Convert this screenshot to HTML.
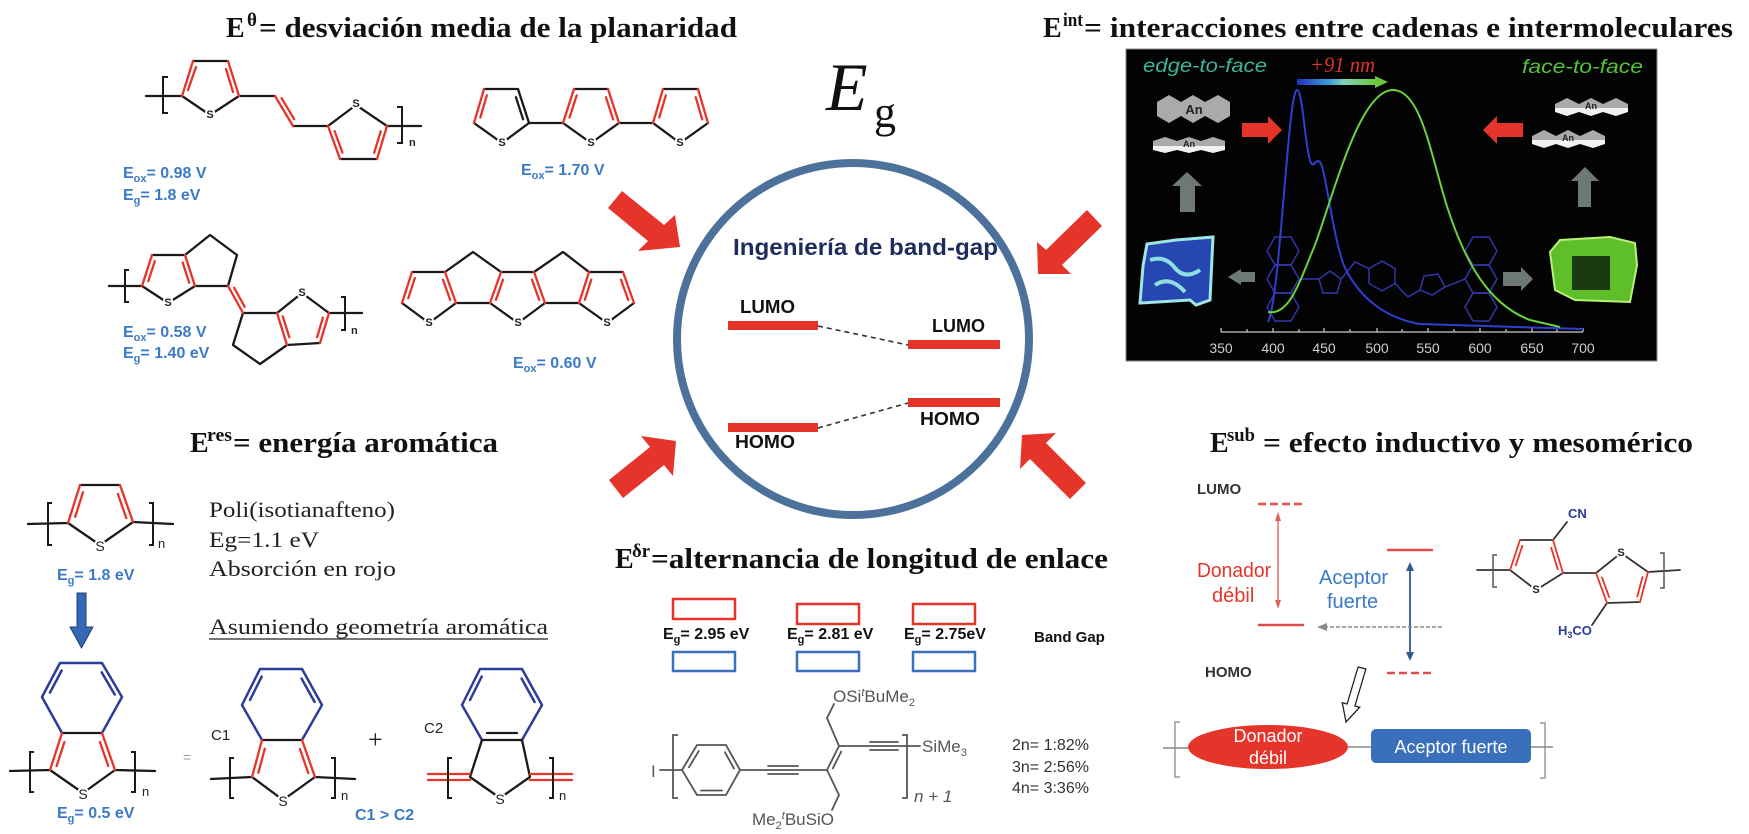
<!DOCTYPE html>
<html><head><meta charset="utf-8"><style>
body{margin:0;background:#fff}
svg{display:block}
.t{font-family:"Liberation Serif",serif;font-weight:bold;font-size:28px;fill:#111}
.sp{font-family:"Liberation Serif",serif;font-weight:bold;font-size:19px;fill:#111}
.k{stroke:#1a1a1a;stroke-width:2.3;fill:none;stroke-linecap:round;stroke-linejoin:round}
.r{stroke:#e5352a;stroke-width:2.3;fill:none;stroke-linecap:round}
.bu{stroke:#2c3c9c;stroke-width:2.5;fill:none;stroke-linecap:round;stroke-linejoin:round}
.br{stroke:#1a1a1a;stroke-width:2;fill:none}
.S{font-family:"Liberation Sans",sans-serif;font-weight:bold;font-size:11px;fill:#222;text-anchor:middle;dominant-baseline:central;paint-order:stroke;stroke:#fff;stroke-width:4px}
.S2{font-family:"Liberation Sans",sans-serif;font-size:14px;fill:#222;text-anchor:middle;dominant-baseline:central;paint-order:stroke;stroke:#fff;stroke-width:4px}
.n{font-family:"Liberation Sans",sans-serif;font-weight:bold;font-size:11px;fill:#222}
.n2{font-family:"Liberation Sans",sans-serif;font-size:13px;fill:#222}
.bl{font-family:"Liberation Sans",sans-serif;font-weight:bold;font-size:16px;fill:#3a7ac8}
.sv{font-family:"Liberation Serif",serif;font-size:22px;fill:#222}
.lm{font-family:"Liberation Sans",sans-serif;font-weight:bold;font-size:18px;fill:#111}
.eg{font-family:"Liberation Sans",sans-serif;font-weight:bold;font-size:16px;fill:#111}
.gp{font-family:"Liberation Sans",sans-serif;font-size:17px;fill:#555}
.gl{stroke:#555;stroke-width:1.8;fill:none;stroke-linecap:round}
.ml{stroke:#333;stroke-width:1.8;fill:none;stroke-linecap:round}
.mr{stroke:#e5352a;stroke-width:1.8;fill:none;stroke-linecap:round}
.pm{stroke:#3438b0;stroke-width:1.4;fill:none}
</style></head><body>
<svg width="1749" height="834" viewBox="0 0 1749 834" xmlns="http://www.w3.org/2000/svg">
<rect width="1749" height="834" fill="#fff"/>

<!-- ===== TITLES ===== -->
<text class="t" x="226" y="37">E</text><text class="sp" x="247" y="26">θ</text>
<text class="t" x="259" y="37" textLength="478" lengthAdjust="spacingAndGlyphs">= desviación media de la planaridad</text>

<text class="t" x="1043" y="37">E</text><text class="sp" x="1063" y="26" textLength="20" lengthAdjust="spacingAndGlyphs">int</text>
<text class="t" x="1084" y="37" textLength="649" lengthAdjust="spacingAndGlyphs">= interacciones entre cadenas e intermoleculares</text>

<text class="t" x="190" y="452">E</text><text class="sp" x="207" y="441" textLength="25" lengthAdjust="spacingAndGlyphs">res</text>
<text class="t" x="233" y="452" textLength="265" lengthAdjust="spacingAndGlyphs">= energía aromática</text>

<text class="t" x="1210" y="452">E</text><text class="sp" x="1227" y="441" textLength="28" lengthAdjust="spacingAndGlyphs">sub</text>
<text class="t" x="1263" y="452" textLength="430" lengthAdjust="spacingAndGlyphs">= efecto inductivo y mesomérico</text>

<text class="t" x="615" y="568">E</text><text class="sp" x="632" y="557" textLength="18" lengthAdjust="spacingAndGlyphs">δr</text>
<text class="t" x="651" y="568" textLength="457" lengthAdjust="spacingAndGlyphs">=alternancia de longitud de enlace</text>

<!-- ===== STRUCTURE 1 ===== -->
<path class="k" d="M146,96 L182,96 M193,61 L228,61 M239,96 L275,96 M293,126 L328,126 M387,126 L421,126 M239,96 L210,115 L182,96 M328,126 L356,105 L387,126 M377,159 L340,159"/>
<path class="r" d="M182,96 L193,61 M188,90 L196,67 M228,61 L239,96 M226,69 L233,92 M275,96 L293,126 M281.6,98.2 L294.2,119.2 M328,126 L340,159 M334.6,131.1 L342.4,152.5 M387,126 L377,159 M380.7,131.3 L374.2,152.7"/>
<path class="br" d="M168,77 L163,77 L163,113 L168,113 M397,107 L402,107 L402,143 L397,143"/>
<text class="S" x="210" y="115">S</text><text class="S" x="356" y="104">S</text>
<text class="n" x="409" y="146">n</text>
<text class="bl" x="123" y="178">E<tspan font-size="11" dy="4">ox</tspan><tspan dy="-4">= 0.98 V</tspan></text>
<text class="bl" x="123" y="200">E<tspan font-size="11" dy="4">g</tspan><tspan dy="-4">= 1.8 eV</tspan></text>

<!-- ===== STRUCTURE 2 ===== -->
<path class="k" d="M109,286 L142,286 M152,255 L185,255 M195,286 L168,303 L142,286 M185,255 L210,235 L237,255 L228,286 L195,286 M243,313 L233,345 L260,364 L287,345 M277,313 L243,313 M277,313 L302,293 L329,313 M320,343 L287,345 M329,313 L362,313"/>
<path class="r" d="M142,286 L152,255 M148.3,281.2 L154.8,261.1 M185,255 L195,286 M182.7,262.6 L189.2,282.8 M228,286 L243,313 M234.2,287.8 L244.7,306.8 M287,345 L277,313 M289.3,337.2 L282.8,316.4 M329,313 L320,343 M322.9,317.7 L317.1,337.2"/>
<path class="br" d="M129,270 L125,270 L125,302 L129,302 M341,297 L345,297 L345,330 L341,330"/>
<text class="S" x="168" y="303">S</text><text class="S" x="302" y="293">S</text>
<text class="n" x="351" y="334">n</text>
<text class="bl" x="123" y="337">E<tspan font-size="11" dy="4">ox</tspan><tspan dy="-4">= 0.58 V</tspan></text>
<text class="bl" x="123" y="358">E<tspan font-size="11" dy="4">g</tspan><tspan dy="-4">= 1.40 eV</tspan></text>

<!-- ===== TERTHIOPHENE ===== -->
<path class="k" d="M484,89 L518,89 L529,123 M515.9,97.2 L523.1,119.3 M529,123 L502,143 L474,123 M529,123 L563,123 M574,89 L608,89 M619,123 L591,143 L563,123 M619,123 L653,123 M663,89 L698,89 M708,123 L680,143 L653,123"/>
<path class="r" d="M474,123 L484,89 M480.3,117.5 L486.8,95.4 M563,123 L574,89 M569.5,117.5 L576.7,95.4 M608,89 L619,123 M605.9,97.2 L613.1,119.3 M653,123 L663,89 M659.3,117.5 L665.8,95.4 M698,89 L708,123 M695.7,97.2 L702.2,119.3"/>
<text class="S" x="502" y="143">S</text><text class="S" x="591" y="143">S</text><text class="S" x="680" y="143">S</text>
<text class="bl" x="521" y="175">E<tspan font-size="11" dy="4">ox</tspan><tspan dy="-4">= 1.70 V</tspan></text>

<!-- ===== FUSED ===== -->
<path class="k" d="M412,272 L445,272 M456,303 L429,323 L402,303 M445,272 L473,252 L501,272 M490,303 L456,303 M501,272 L534,272 M545,303 L518,323 L490,303 M534,272 L563,252 L589,272 M579,303 L545,303 M589,272 L623,272 M634,303 L607,323 L579,303"/>
<path class="r" d="M402,303 L412,272 M408.3,298.2 L414.8,278.1 M445,272 L456,303 M443,279.7 L450.2,299.9 M501,272 L490,303 M503,279.7 L495.9,299.9 M534,272 L545,303 M532,279.7 L539.2,299.9 M589,272 L579,303 M591.3,279.6 L584.8,299.8 M623,272 L634,303 M621,279.7 L628.2,299.9"/>
<text class="S" x="429" y="323">S</text><text class="S" x="518" y="323">S</text><text class="S" x="607" y="323">S</text>
<text class="bl" x="513" y="368">E<tspan font-size="11" dy="4">ox</tspan><tspan dy="-4">= 0.60 V</tspan></text>

<!-- ===== Eg ===== -->
<text x="826" y="110" font-family="Liberation Serif,serif" font-style="italic" font-size="68" fill="#111">E</text>
<text x="874" y="127" font-family="Liberation Serif,serif" font-size="44" fill="#111">g</text>

<!-- ===== RED ARROWS ===== -->
<g fill="#e5352a">
<polygon points="622,191 664,225 675,215 680,247 638,251 648,241 608,208"/>
<polygon points="1087,210 1102,226 1062,265 1071,274 1038,274 1037,242 1046,250"/>
<polygon points="609,480 650,447 641,436 676,441 673,476 664,465 623,498"/>
<polygon points="1086,483 1046,443 1056,433 1022,435 1020,469 1030,459 1070,499"/>
</g>

<!-- ===== CIRCLE ===== -->
<circle cx="853" cy="339" r="176" fill="none" stroke="#4c729b" stroke-width="8"/>
<text x="733" y="255" font-family="Liberation Sans,sans-serif" font-weight="bold" font-size="23" fill="#1f2d5e" textLength="265" lengthAdjust="spacingAndGlyphs">Ingeniería de band-gap</text>
<rect x="728" y="321" width="90" height="9" fill="#e5352a"/>
<rect x="908" y="340" width="92" height="9" fill="#e5352a"/>
<rect x="908" y="398" width="92" height="9" fill="#e5352a"/>
<rect x="728" y="423" width="90" height="9" fill="#e5352a"/>
<path d="M818,326 L908,345 M818,428 L908,403" stroke="#333" stroke-width="1.6" stroke-dasharray="5,4" fill="none"/>
<text class="lm" x="740" y="313" textLength="55" lengthAdjust="spacingAndGlyphs">LUMO</text>
<text class="lm" x="932" y="332" textLength="53" lengthAdjust="spacingAndGlyphs">LUMO</text>
<text class="lm" x="920" y="425" textLength="60" lengthAdjust="spacingAndGlyphs">HOMO</text>
<text class="lm" x="735" y="448" textLength="60" lengthAdjust="spacingAndGlyphs">HOMO</text>

<!-- ===== PANEL ===== -->
<rect x="1126" y="49" width="531" height="312" fill="#030303" stroke="#888" stroke-width="1"/>
<text x="1143" y="72" font-family="Liberation Sans,sans-serif" font-style="italic" font-size="19" fill="#3cb59b" textLength="124" lengthAdjust="spacingAndGlyphs">edge-to-face</text>
<text x="1310" y="72" font-family="Liberation Serif,serif" font-style="italic" font-size="22" fill="#e0302a" textLength="65" lengthAdjust="spacingAndGlyphs">+91 nm</text>
<defs><linearGradient id="ga" x1="0" x2="1"><stop offset="0" stop-color="#2030c0"/><stop offset="0.4" stop-color="#3a9ad8"/><stop offset="0.6" stop-color="#80d0c0"/><stop offset="1" stop-color="#6cc83a"/></linearGradient></defs>
<rect x="1297" y="79" width="78" height="6" fill="url(#ga)"/>
<polygon points="1375,76 1388,82 1375,88" fill="#6cc83a"/>
<text x="1522" y="73" font-family="Liberation Sans,sans-serif" font-style="italic" font-size="19" fill="#52c43a" textLength="121" lengthAdjust="spacingAndGlyphs">face-to-face</text>

<!-- left An stack -->
<polygon points="1157,102 1169,95 1181,102 1193,95 1205,102 1218,95 1230,102 1230,116 1218,123 1205,116 1193,123 1181,116 1169,123 1157,116" fill="#a9abab"/>
<text x="1194" y="114" font-family="Liberation Sans,sans-serif" font-weight="bold" font-size="13" fill="#222" text-anchor="middle">An</text>
<polygon points="1153,141 1165,137 1177,141 1189,137 1201,141 1213,137 1225,141 1225,146 1153,146" fill="#a9abab"/>
<polygon points="1153,146 1225,146 1225,150 1213,153 1201,150 1189,153 1177,150 1165,153 1153,150" fill="#f2f2f2"/>
<text x="1189" y="147" font-family="Liberation Sans,sans-serif" font-weight="bold" font-size="9" fill="#222" text-anchor="middle">An</text>
<!-- right An stack -->
<polygon points="1555,104 1567,98 1579,104 1591,98 1603,104 1616,98 1628,104 1628,108 1555,108" fill="#a9abab"/>
<polygon points="1555,108 1628,108 1628,112 1616,116 1603,112 1591,116 1579,112 1567,116 1555,112" fill="#f2f2f2"/>
<text x="1591" y="109" font-family="Liberation Sans,sans-serif" font-weight="bold" font-size="9" fill="#222" text-anchor="middle">An</text>
<polygon points="1532,136 1544,130 1556,136 1568,130 1580,136 1593,130 1605,136 1605,140 1532,140" fill="#a9abab"/>
<polygon points="1532,140 1605,140 1605,144 1593,148 1580,144 1568,148 1556,144 1544,148 1532,144" fill="#f2f2f2"/>
<text x="1568" y="141" font-family="Liberation Sans,sans-serif" font-weight="bold" font-size="9" fill="#222" text-anchor="middle">An</text>

<!-- gray arrows -->
<g fill="#6e7877">
<polygon points="1172,186 1187,172 1202,186 1195,186 1195,212 1180,212 1180,186"/>
<polygon points="1571,181 1585,167 1599,181 1591,181 1591,207 1578,207 1578,181"/>
<polygon points="1241,269 1228,277 1241,285 1241,282 1255,282 1255,272 1241,272"/>
<polygon points="1503,272 1521,272 1521,267 1533,279 1521,291 1521,286 1503,286"/>
</g>
<!-- red arrows in panel -->
<g fill="#e5352a">
<polygon points="1242,123 1268,123 1268,116 1282,130 1268,144 1268,137 1242,137"/>
<polygon points="1523,123 1497,123 1497,116 1483,130 1497,144 1497,137 1523,137"/>
</g>
<!-- crystals -->
<polygon points="1143,266 1147,244 1176,240 1213,237 1210,300 1196,305 1190,300 1140,303" fill="#2646b2" stroke="#9fe6e2" stroke-width="3"/>
<path d="M1150,260 Q1165,255 1175,268 Q1185,280 1200,270 M1155,285 Q1170,275 1185,292" stroke="#8fdfe0" stroke-width="4" fill="none"/>
<polygon points="1550,252 1560,240 1610,237 1635,243 1637,265 1630,302 1575,300 1555,290" fill="#5fbf2a" stroke="#b8f07a" stroke-width="2"/>
<rect x="1572" y="256" width="38" height="34" fill="#1c3a10"/>

<!-- axis -->
<line x1="1221" y1="332" x2="1583" y2="332" stroke="#ccc" stroke-width="1.2"/>
<path d="M1221,332 v-4 M1247,332 v-3 M1273,332 v-4 M1299,332 v-3 M1324,332 v-4 M1350,332 v-3 M1377,332 v-4 M1402,332 v-3 M1428,332 v-4 M1454,332 v-3 M1480,332 v-4 M1506,332 v-3 M1532,332 v-4 M1557,332 v-3 M1583,332 v-4" stroke="#ccc" stroke-width="1.2"/>
<g font-family="Liberation Sans,sans-serif" font-size="14" fill="#cfcfcf" text-anchor="middle">
<text x="1221" y="353">350</text><text x="1273" y="353">400</text><text x="1324" y="353">450</text><text x="1377" y="353">500</text><text x="1428" y="353">550</text><text x="1480" y="353">600</text><text x="1532" y="353">650</text><text x="1583" y="353">700</text>
</g>
<!-- molecule in panel -->
<g class="pm">
<polygon points="1267,251 1275,237 1291,237 1299,251 1291,265 1275,265"/>
<polygon points="1267,279 1275,265 1291,265 1299,279 1291,293 1275,293"/>
<polygon points="1267,307 1275,293 1291,293 1299,307 1291,321 1275,321"/>
<polygon points="1465,251 1473,237 1489,237 1497,251 1489,265 1473,265"/>
<polygon points="1465,279 1473,265 1489,265 1497,279 1489,293 1473,293"/>
<polygon points="1465,307 1473,293 1489,293 1497,307 1489,321 1473,321"/>
<polygon points="1330,271 1341,279 1337,293 1323,293 1319,279"/>
<polygon points="1382,261 1395,268.5 1395,283.5 1382,291 1369,283.5 1369,268.5"/>
<polygon points="1420,290 1424,276 1438,274 1445,287 1432,295"/>
<path d="M1299,279 L1319,279 M1341,279 L1355,262 L1369,268.5 M1395,283.5 L1408,297 L1420,290 M1445,287 L1465,279"/>
</g>
<!-- curves -->
<path d="M1268,322 C1280,300 1288,90 1297,90 C1303,90 1305,150 1311,163 C1314,168 1316,158 1320,162 C1326,170 1333,240 1345,268 C1360,298 1385,318 1420,324 L1583,329" stroke="#2f3fd0" stroke-width="2" fill="none"/>
<path d="M1268,312 C1290,316 1300,280 1315,245 C1335,190 1360,90 1393,90 C1420,90 1430,150 1445,200 C1465,265 1490,305 1530,320 L1560,327" stroke="#6ad23a" stroke-width="2" fill="none"/>

<!-- ===== BOTTOM LEFT ===== -->
<path class="k" d="M28,524 L68,523 M80,485 L120,485 M133,522 L100,545 L68,523 M133,522 L173,524"/>
<path class="r" d="M68,523 L80,485 M75.2,516.9 L83,492.2 M120,485 L133,522 M117.9,494 L126.3,518.1"/>
<path class="br" d="M52,503 L48,503 L48,545 L52,545 M149,503 L153,503 L153,545 L149,545"/>
<text class="S2" x="100" y="546">S</text>
<text class="n2" x="158" y="548">n</text>
<text class="bl" x="57" y="580">E<tspan font-size="11" dy="4">g</tspan><tspan dy="-4">= 1.8 eV</tspan></text>
<polygon points="77,593 86,593 86,627 93,627 81.5,648 70,627 77,627" fill="#3567b3" stroke="#1f3f7a" stroke-width="1"/>

<text class="sv" x="209" y="517" textLength="186" lengthAdjust="spacingAndGlyphs">Poli(isotianafteno)</text>
<text class="sv" x="209" y="547" textLength="110" lengthAdjust="spacingAndGlyphs">Eg=1.1 eV</text>
<text class="sv" x="209" y="576" textLength="187" lengthAdjust="spacingAndGlyphs">Absorción en rojo</text>
<text class="sv" x="209" y="634" textLength="339" lengthAdjust="spacingAndGlyphs">Asumiendo geometría aromática</text>
<line x1="209" y1="639" x2="548" y2="639" stroke="#222" stroke-width="1.3"/>

<!-- isothianaphthene -->
<path class="bu" d="M62,733 L42,697 L60,663 L102,663 L122,697 L102,733 M50,692.6 L61.7,670.5 M101.7,672.4 L114.7,694.5"/>
<path class="k" d="M62,733 L102,733 M50,770 L83,793 L115,770 M10,771 L50,770 M115,770 L155,771"/>
<path class="r" d="M62,733 L50,770 M64.4,742 L56.6,766 M102,733 L115,770 M99.9,742 L108.3,766.1"/>
<path class="br" d="M34,752 L30,752 L30,792 L34,792 M131,752 L135,752 L135,792 L131,792"/>
<text class="S2" x="83" y="794">S</text>
<text class="n2" x="142" y="796">n</text>
<text class="bl" x="57" y="818">E<tspan font-size="11" dy="4">g</tspan><tspan dy="-4">= 0.5 eV</tspan></text>
<text x="183" y="762" font-family="Liberation Sans,sans-serif" font-size="14" fill="#999">=</text>

<!-- C1 -->
<path class="bu" d="M262,740 L242,705 L260,669 L302,669 L322,705 L302,740 M250,700 L261.7,676.6 M301.6,678.6 L314.6,702"/>
<path class="k" d="M262,740 L302,740 M252,777 L283,800 L315,777 M211,779 L252,777 M315,777 L355,779"/>
<path class="r" d="M262,740 L252,777 M264.8,748.7 L258.3,772.8 M302,740 L315,777 M299.9,749 L308.3,773.1"/>
<path class="br" d="M234,758 L230,758 L230,798 L234,798 M331,758 L335,758 L335,798 L331,798"/>
<text class="S2" x="283" y="801">S</text>
<text class="n2" x="341" y="800">n</text>
<text x="211" y="740" font-family="Liberation Sans,sans-serif" font-size="15" fill="#222">C1</text>
<text x="368" y="748" font-family="Liberation Serif,serif" font-size="26" fill="#222">+</text>
<text x="424" y="733" font-family="Liberation Sans,sans-serif" font-size="15" fill="#222">C2</text>
<text class="bl" x="355" y="820">C1 &gt; C2</text>

<!-- C2 -->
<path class="bu" d="M482,740 L462,705 L480,669 L522,669 L542,705 L522,740 M470,700 L481.7,676.6 M521.6,678.6 L534.6,702"/>
<path class="k" d="M482,740 L522,740 M487,733 L517,733 M482,740 L470,777 L500,798 L530,777 L522,740"/>
<path class="r" d="M428,774 L470,774 M428,780 L470,780 M530,774 L572,774 M530,780 L572,780"/>
<path class="br" d="M452,758 L448,758 L448,798 L452,798 M549,758 L553,758 L553,798 L549,798"/>
<text class="S2" x="500" y="799">S</text>
<text class="n2" x="559" y="800">n</text>

<!-- ===== BOTTOM MIDDLE ===== -->
<g fill="none" stroke-width="2.5">
<rect x="673" y="599" width="62" height="20" stroke="#e5352a"/>
<rect x="797" y="604" width="62" height="20" stroke="#e5352a"/>
<rect x="913" y="604" width="62" height="20" stroke="#e5352a"/>
<rect x="673" y="652" width="62" height="19" stroke="#3b6fc0"/>
<rect x="797" y="652" width="62" height="19" stroke="#3b6fc0"/>
<rect x="913" y="652" width="62" height="19" stroke="#3b6fc0"/>
</g>
<text class="eg" x="663" y="639">E<tspan font-size="11" dy="4">g</tspan><tspan dy="-4">= 2.95 eV</tspan></text>
<text class="eg" x="787" y="639">E<tspan font-size="11" dy="4">g</tspan><tspan dy="-4">= 2.81 eV</tspan></text>
<text class="eg" x="904" y="639">E<tspan font-size="11" dy="4">g</tspan><tspan dy="-4">= 2.75eV</tspan></text>
<text x="1034" y="642" font-family="Liberation Sans,sans-serif" font-weight="bold" font-size="15" fill="#111">Band Gap</text>

<!-- polymer -->
<text class="gp" x="651" y="777">I</text>
<path class="gl" d="M660,770 L682,770 M682,770 L697,745 L726,745 L740,770 L726,795 L697,795 Z M688.9,767.3 L698.7,751.1 M724.9,752.2 L734,768.5 M701,790.5 L722,790.5 M740,770 L827,770 M768,766 L798,766 M768,774 L798,774 M827,770 L839,746 M832.8,768.4 L841.2,751.6 M839,746 L827,718 L834,704 M827,770 L839,795 L832,810 M839,746 L920,746 M870,742 L898,742 M870,750 L898,750"/>
<path d="M678,735 L673,735 L673,798 L678,798 M902,735 L907,735 L907,798 L902,798" stroke="#555" stroke-width="1.8" fill="none"/>
<text class="gp" x="833" y="702">OSi<tspan font-style="italic" font-size="11" dy="-6">t</tspan><tspan dy="6">BuMe</tspan><tspan font-size="11" dy="4">2</tspan></text>
<text class="gp" x="752" y="825">Me<tspan font-size="11" dy="4">2</tspan><tspan font-style="italic" font-size="11" dy="-10">t</tspan><tspan dy="6">BuSiO</tspan></text>
<text class="gp" x="922" y="752">SiMe<tspan font-size="11" dy="4">3</tspan></text>
<text class="gp" x="914" y="802" font-style="italic">n + 1</text>
<g font-family="Liberation Sans,sans-serif" font-size="16" fill="#333">
<text x="1012" y="750">2n= 1:82%</text>
<text x="1012" y="772">3n= 2:56%</text>
<text x="1012" y="793">4n= 3:36%</text>
</g>

<!-- ===== BOTTOM RIGHT ===== -->
<text x="1197" y="494" font-family="Liberation Sans,sans-serif" font-weight="bold" font-size="15" fill="#333">LUMO</text>
<text x="1205" y="677" font-family="Liberation Sans,sans-serif" font-weight="bold" font-size="15" fill="#333">HOMO</text>
<line x1="1258" y1="504" x2="1304" y2="504" stroke="#e04b4b" stroke-width="2.5" stroke-dasharray="8,4"/>
<line x1="1258" y1="625" x2="1304" y2="625" stroke="#e04b4b" stroke-width="2.5"/>
<line x1="1387" y1="550" x2="1433" y2="550" stroke="#e04b4b" stroke-width="2.5"/>
<line x1="1387" y1="673" x2="1433" y2="673" stroke="#e04b4b" stroke-width="2.5" stroke-dasharray="8,4"/>
<line x1="1278" y1="518" x2="1278" y2="603" stroke="#e06060" stroke-width="1.4"/>
<polygon points="1275,521 1278,512 1281,521" fill="#e06060"/>
<polygon points="1275,600 1278,609 1281,600" fill="#e06060"/>
<line x1="1410" y1="569" x2="1410" y2="654" stroke="#2e5a94" stroke-width="1.8"/>
<polygon points="1406,571 1410,562 1414,571" fill="#2e5a94"/>
<polygon points="1406,652 1410,661 1414,652" fill="#2e5a94"/>
<line x1="1442" y1="627" x2="1326" y2="627" stroke="#888" stroke-width="1.5" stroke-dasharray="4,2"/>
<polygon points="1327,623 1317,627 1327,631" fill="#888"/>
<text x="1197" y="577" font-family="Liberation Sans,sans-serif" font-size="20" fill="#e5352a" textLength="74" lengthAdjust="spacingAndGlyphs">Donador</text>
<text x="1212" y="602" font-family="Liberation Sans,sans-serif" font-size="20" fill="#e5352a">débil</text>
<text x="1319" y="584" font-family="Liberation Sans,sans-serif" font-size="20" fill="#3a7ac8" textLength="69" lengthAdjust="spacingAndGlyphs">Aceptor</text>
<text x="1327" y="608" font-family="Liberation Sans,sans-serif" font-size="20" fill="#3a7ac8">fuerte</text>
<polygon points="1358.1,667 1365.9,669 1354.9,706 1359.7,707.2 1346,722 1342.3,702.8 1347.1,704" fill="#fff" stroke="#222" stroke-width="1.3"/>

<path d="M1180,722 L1175,722 L1175,777 L1180,777 M1540,723 L1545,723 L1545,778 L1540,778" stroke="#999" stroke-width="1.5" fill="none"/>
<path d="M1163,748 L1190,748 M1346,747 L1371,747 M1531,747 L1553,747" stroke="#888" stroke-width="1.5"/>
<ellipse cx="1268" cy="747" rx="80" ry="22" fill="#e5352a"/>
<text x="1268" y="742" font-family="Liberation Sans,sans-serif" font-size="18" fill="#fff" text-anchor="middle">Donador</text>
<text x="1268" y="764" font-family="Liberation Sans,sans-serif" font-size="18" fill="#fff" text-anchor="middle">débil</text>
<rect x="1371" y="729" width="160" height="34" rx="5" fill="#3a6fbb"/>
<text x="1451" y="753" font-family="Liberation Sans,sans-serif" font-size="18" fill="#fff" text-anchor="middle">Aceptor fuerte</text>

<!-- molecule right -->
<path class="ml" d="M1477,570 L1510,570 M1520,540 L1553,540 M1563,573 L1536,590 L1510,570 M1553,540 L1567,522 M1563,573 L1596,573 M1596,573 L1621,553 L1648,572 M1640,602 L1607,603 M1607,603 L1592,625 M1648,572 L1680,570"/>
<path class="mr" d="M1510,570 L1520,540 M1515.8,565.3 L1522.3,545.8 M1553,540 L1563,573 M1551.2,547.8 L1557.7,569.2 M1596,573 L1607,603 M1602,577.6 L1609.2,597.1 M1648,572 L1640,602 M1642.5,577 L1637.3,596.5"/>
<path d="M1497,555 L1493,555 L1493,587 L1497,587 M1660,553 L1664,553 L1664,588 L1660,588" stroke="#555" stroke-width="1.5" fill="none"/>
<text class="S" x="1536" y="590">S</text><text class="S" x="1621" y="553">S</text>
<text x="1568" y="518" font-family="Liberation Sans,sans-serif" font-weight="bold" font-size="13" fill="#2b3a9a">CN</text>
<text x="1558" y="635" font-family="Liberation Sans,sans-serif" font-weight="bold" font-size="13" fill="#2b3a9a">H<tspan font-size="9" dy="3">3</tspan><tspan dy="-3">CO</tspan></text>
</svg>
</body></html>
